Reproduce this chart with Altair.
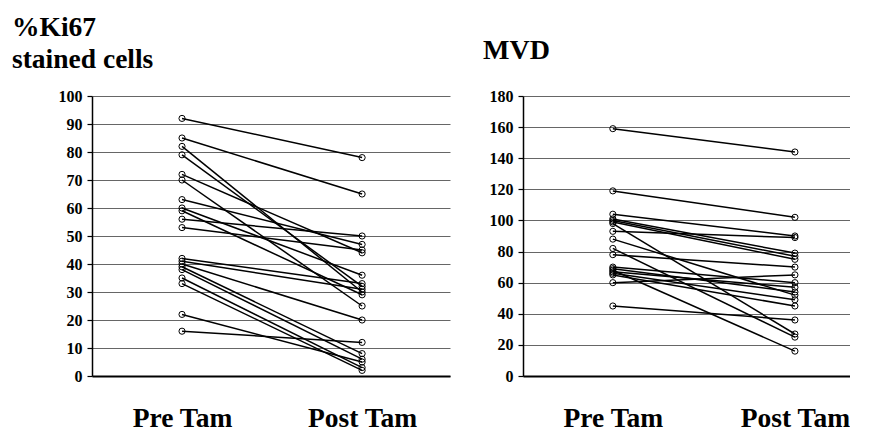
import altair as alt
import pandas as pd

stages = ["Pre Tam", "Post Tam"]

# %Ki67 stained cells (paired: pre -> post)
ki67_pre = [92, 85, 82, 79, 72, 70, 63, 60, 59, 56, 53, 42, 41, 40, 39, 38, 35, 33, 22, 16]
ki67_post = [78, 65, 30, 32, 44, 25, 47, 36, 29, 50, 45, 33, 31, 20, 8, 6, 3, 2, 5, 12]

# MVD (paired: pre -> post)
mvd_pre = [159, 119, 104, 101, 100, 99, 98, 93, 88, 82, 78, 70, 69, 68, 67, 66, 65, 60, 45]
mvd_post = [144, 102, 90, 79, 77, 75, 27, 89, 52, 25, 70, 60, 54, 16, 57, 49, 45, 65, 36]

ki67_ticks = list(range(0, 101, 10))
mvd_ticks = list(range(0, 181, 20))

FONT = "'Liberation Serif', 'Times New Roman', Times, serif"


def long_table(pre, post):
    rows = []
    for i, (a, b) in enumerate(zip(pre, post)):
        rows.append({"pid": i, "stage": stages[0], "value": a})
        rows.append({"pid": i, "stage": stages[1], "value": b})
    return pd.DataFrame(rows)


def panel(df, ymax, ticks, width, pad, align, title_text, title_offset, title_dx, title_size):
    x = alt.X(
        "stage:N",
        sort=stages,
        scale=alt.Scale(type="point", padding=pad, align=align),
        axis=alt.Axis(
            title=None, labelAngle=0, ticks=False, tickSize=0, grid=False,
            domain=True, domainColor="black", domainWidth=2,
            labelFont=FONT, labelFontSize=27.5, labelFontWeight="bold",
            labelColor="black", labelPadding=28,
        ),
    )
    y = alt.Y(
        "value:Q",
        scale=alt.Scale(domain=[0, ymax], nice=False),
        axis=alt.Axis(
            title=None, values=ticks, format="d",
            domain=True, domainColor="black", domainWidth=1.5,
            ticks=True, tickSize=5, tickColor="black", tickWidth=1.2,
            grid=True, gridColor="#555555", gridWidth=0.9,
            labelFont=FONT, labelFontSize=16, labelFontWeight="bold",
            labelColor="black", labelPadding=5,
        ),
    )
    base = alt.Chart(df)
    lines = base.mark_line(color="black", strokeWidth=1.5).encode(x=x, y=y, detail="pid:N")
    pts = base.mark_point(shape="circle", filled=False, color="black", size=38, strokeWidth=1, opacity=1).encode(x=x, y=y)
    return alt.layer(lines, pts).properties(
        width=width,
        height=280,
        title=alt.TitleParams(
            text=title_text, anchor="start", frame="group", dx=title_dx, offset=title_offset,
            font=FONT, fontSize=title_size, fontWeight="bold", color="black", lineHeight=32,
        ),
    )


left = panel(long_table(ki67_pre, ki67_post), 100, ki67_ticks, 358, 0.494, 0.506,
             ["%Ki67", "stained cells"], 15, -80, 27.5)
right = panel(long_table(mvd_pre, mvd_post), 180, mvd_ticks, 327, 0.398, 0.62,
              "MVD", 23, -40, 28)

chart = alt.hconcat(left, right, spacing=73, bounds="flush").properties(
    padding={"left": 4, "top": 5, "right": 0, "bottom": 0}
).configure_view(strokeWidth=0)

chart.save("out.html", embed_options={"renderer": "svg", "actions": False})
